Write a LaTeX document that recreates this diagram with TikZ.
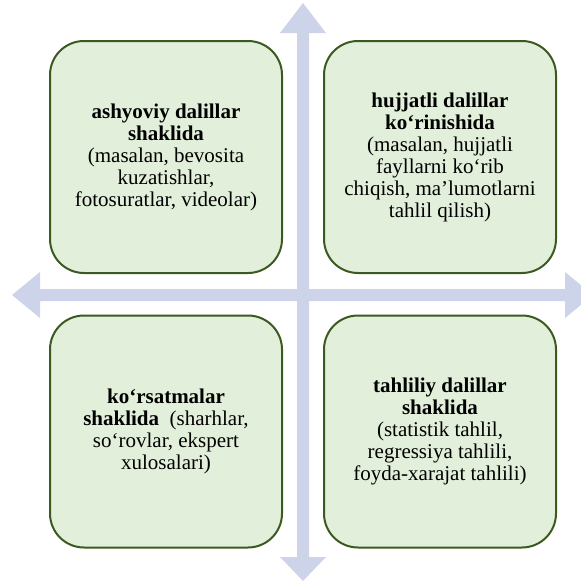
\documentclass[tikz,border=0pt]{standalone}
\usepackage{fontspec}
\setmainfont{Liberation Serif}
\definecolor{boxfill}{HTML}{E2EFDA}
\definecolor{boxline}{HTML}{3B5A21}
\definecolor{arrowfill}{HTML}{CDD4EA}
\begin{document}
\begin{tikzpicture}[x=1pt,y=-1pt,
  quad/.style={draw=boxline, fill=boxfill, line width=2pt, rounded corners=34pt,
    minimum width=232pt, minimum height=232pt, align=center,
    font=\fontsize{21}{22}\selectfont, inner sep=0pt}]
\useasboundingbox (0,0) rectangle (581,581);
\clip (0,0) rectangle (581,581);
% named ends of the cross arrows
\coordinate (ntip) at (303,3);
\coordinate (stip) at (303,581);
\coordinate (wtip) at (12,295);
\coordinate (etip) at (593,295);
% vertical double arrow
\fill[arrowfill] (ntip) -- (326,33) -- (309,33) -- (309,557) -- (326,557) -- (stip)
  -- (280,557) -- (297,557) -- (297,33) -- (280,33) -- cycle;
% horizontal double arrow
\fill[arrowfill] (wtip) -- (40,272) -- (40,289) -- (565,289) -- (565,272) -- (etip)
  -- (565,318) -- (565,301) -- (40,301) -- (40,318) -- cycle;
% boxes
\node[quad] (tl) at (166,157) {\textbf{ashyoviy dalillar}\\\textbf{shaklida}\\(masalan, bevosita\\kuzatishlar,\\fotosuratlar, videolar)};
\node[quad] (tr) at (440,157) {\textbf{hujjatli dalillar}\\\textbf{ko‘rinishida}\\(masalan, hujjatli\\fayllarni ko‘rib\\chiqish, ma’lumotlarni\\tahlil qilish)};
\node[quad] (bl) at (166,431.5) {\textbf{ko‘rsatmalar}\\\textbf{shaklida}\ \ (sharhlar,\\so‘rovlar, ekspert\\xulosalari)};
\node[quad] (br) at (440,431.5) {\textbf{tahliliy dalillar}\\\textbf{shaklida}\\(statistik tahlil,\\regressiya tahlili,\\foyda-xarajat tahlili)};
\end{tikzpicture}
\end{document}
